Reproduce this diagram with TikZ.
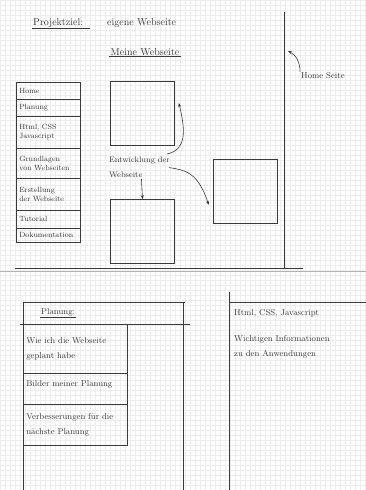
\documentclass[tikz,border=0pt]{standalone}
\usetikzlibrary{arrows.meta}
\definecolor{ink}{HTML}{3A3A3A}
\definecolor{gridc}{HTML}{EDEDED}
\begin{document}
\begin{tikzpicture}[x=1pt,y=-1pt,
  pen/.style={draw=ink,line width=0.6pt},
  arr/.style={pen,-{Stealth[length=4pt,width=3pt]}},
  hand/.style={text=ink,font=\fontsize{8.5}{11}\selectfont,inner sep=1pt},
  menuitem/.style={pen,anchor=north west,minimum width=64pt,text width=58pt,align=left,
     text=ink,font=\fontsize{7.5}{9.5}\selectfont,inner sep=3pt},
  cell/.style={pen,anchor=north west,minimum width=104pt,text width=98pt,align=left,
     text=ink,font=\fontsize{8.5}{15}\selectfont,inner sep=3pt},
  page/.style={pen,minimum size=64pt,inner sep=0pt}]
\useasboundingbox (0,0) rectangle (366,490);
\fill[white] (0,0) rectangle (366,490);
% grid paper
\foreach \i in {0,5,...,365} \draw[gridc,line width=0.3pt] (\i,0) -- (\i,490);
\foreach \j in {0,5,...,490} \draw[gridc,line width=0.3pt] (0,\j) -- (366,\j);
\draw[black!30,line width=1pt] (0,271) -- (366,271);

% top sheet frame
\coordinate (vtop) at (284,12);
\coordinate (vbot) at (284,269);
\coordinate (hl) at (15,268);
\coordinate (hr) at (303,268);
\draw[pen] (vtop) -- (vbot);
\draw[pen] (hl) -- (hr);

% titles
\node[hand,anchor=west,font=\fontsize{10}{12}\selectfont] (tA) at (32,23) {Projektziel:};
\node[hand,anchor=west,font=\fontsize{10}{12}\selectfont] (tB) at (106,23) {eigene Webseite};
\draw[pen] (tA.south west) -- ([xshift=6]tA.south east);
\node[hand,font=\fontsize{10}{12}\selectfont] (mw) at (145,52) {Meine Webseite};
\draw[pen] (mw.south west) -- (mw.south east);

% Home Seite
\node[hand,anchor=west] (hs) at (300,76) {Home Seite};
\coordinate (hsp) at (288,51);
\draw[arr] (hs.north west) .. controls (300,62) and (296,55) .. (hsp);

% menu
\node[menuitem,minimum height=17pt] (m1) at (16,82) {Home};
\node[menuitem,minimum height=17pt] (m2) at (16,99) {Planung};
\node[menuitem,minimum height=32pt] (m3) at (16,116) {Html, CSS\\Javascript};
\node[menuitem,minimum height=30pt] (m4) at (16,148) {Grundlagen\\von Webseiten};
\node[menuitem,minimum height=32pt] (m5) at (16,178) {Erstellung\\der Webseite};
\node[menuitem,minimum height=18pt] (m6) at (16,210) {Tutorial};
\node[menuitem,minimum height=14pt] (m7) at (16,228) {Dokumentation};

% page sketches
\node[page] (b1) at (142.5,113) {};
\node[page] (b2) at (245,191) {};
\node[page] (b3) at (142.5,231.5) {};

\node[hand,anchor=north west,align=left,font=\fontsize{8}{15}\selectfont] (ent) at (108,156)
  {Entwicklung der\\Webseite};
\draw[arr] ([shift={(-4,-2)}]ent.north east) .. controls (186,150) and (186,132) .. ([shift={(4,-10)}]b1.east);
\draw[arr] ([shift={(-2,0)}]ent.east) .. controls (185,170) and (198,172) .. ([shift={(-4,14)}]b2.west);
\draw[arr] ([xshift=2]ent.south) -- (b3.north);

% bottom left sheet
\coordinate (L1) at (23,302); \coordinate (L2) at (185,302);
\coordinate (L3) at (23,490); \coordinate (L4) at (183,302); \coordinate (L5) at (183,490);
\coordinate (L6) at (20,324); \coordinate (L7) at (190,324);
\draw[pen] (L1) -- (L2);
\draw[pen] (L1) -- (L3);
\draw[pen] (L4) -- (L5);
\draw[pen] (L6) -- (L7);
\node[hand,anchor=west] (pl) at (40,312) {Planung:};
\draw[pen] (pl.south west) -- (pl.south east);
\node[cell,minimum height=49pt] (p1) at (23,324) {Wie ich die Webseite\\geplant habe};
\node[cell,minimum height=31pt] (p2) at (23,373) {\vspace{8pt}Bilder meiner Planung};
\node[cell,minimum height=41pt] (p3) at (23,404) {Verbesserungen für die\\nächste Planung};

% bottom right sheet
\coordinate (R1) at (229,292); \coordinate (R2) at (229,490);
\coordinate (R3) at (229,302); \coordinate (R4) at (366,302);
\draw[pen] (R1) -- (R2);
\draw[pen] (R3) -- (R4);
\node[hand,anchor=west] (hc) at (233,313) {Html, CSS, Javascript};
\node[hand,anchor=north west,align=left,font=\fontsize{8.5}{15}\selectfont] (wi) at (233,334)
  {Wichtigen Informationen\\zu den Anwendungen};
\end{tikzpicture}
\end{document}
